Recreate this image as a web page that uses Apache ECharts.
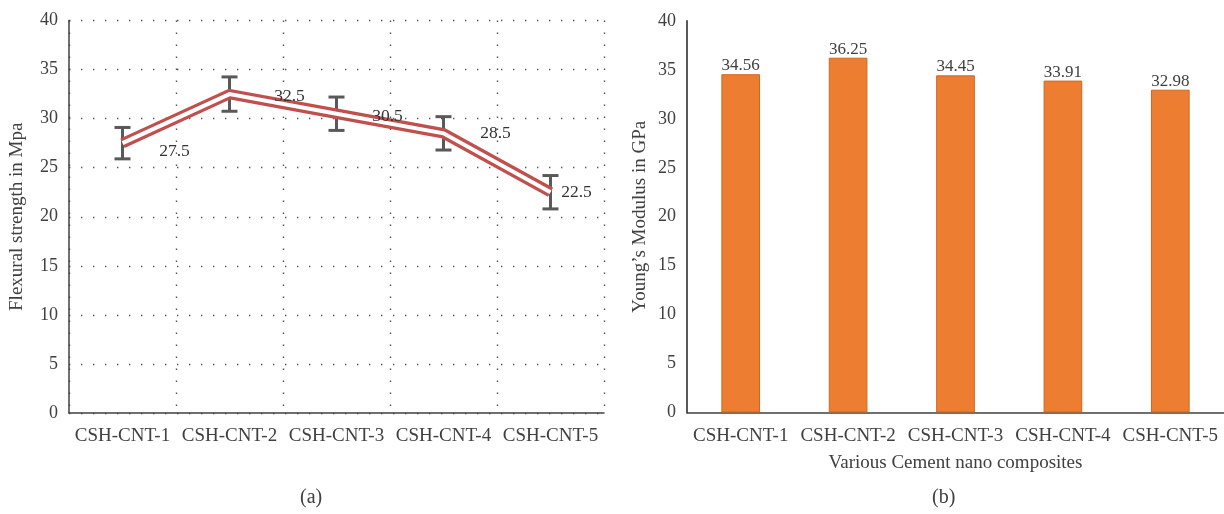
<!DOCTYPE html>
<html>
<head>
<meta charset="utf-8">
<script src="https://cdn.jsdelivr.net/npm/echarts@6/dist/echarts.min.js"></script>
<style>
  html, body { margin: 0; padding: 0; background: #fff; }
  #chart { width: 1224px; height: 514px; }
</style>
</head>
<body>
<div id="chart"></div>
<script>
// Sample names shared by both panels
const categories = ['CSH-CNT-1', 'CSH-CNT-2', 'CSH-CNT-3', 'CSH-CNT-4', 'CSH-CNT-5'];
// (a) Flexural strength (MPa) with its error range
const flexural = [27.5, 32.5, 30.5, 28.5, 22.5];
const flexuralError = [1.6, 1.75, 1.7, 1.7, 1.7];
// (b) Young's modulus (GPa)
const youngs = [34.56, 36.25, 34.45, 33.91, 32.98];
// Value axis ticks
const yMin = 0, yMax = 40, yStep = 5;

// Where each strength label sits relative to its point
const flexLabelOffsets = [[52, 8], [60, 2], [51, 3], [52, 0], [26, 0]];

const FONT = '"Liberation Serif", "DejaVu Serif", serif';
const TEXT = '#404040';
const RED = '#C0504D';

const chart = echarts.init(document.getElementById('chart'), null, { renderer: 'canvas' });

const valueAxisBase = {
  type: 'value', min: yMin, max: yMax, interval: yStep,
  axisTick: { show: false },
  axisLabel: { color: TEXT, fontFamily: FONT, fontSize: 18, margin: 11 },
  nameLocation: 'middle',
  nameTextStyle: { color: TEXT, fontFamily: FONT, fontSize: 19 }
};
const catAxisBase = {
  type: 'category', data: categories,
  axisTick: { show: false },
  axisLabel: { color: TEXT, fontFamily: FONT, fontSize: 19, margin: 14, interval: 0 },
  axisLine: { lineStyle: { color: TEXT, width: 1.5 } }
};
const dotted = { color: '#555', width: 1.4, type: [1.4, 10.6] };

const option = {
  animation: false,
  backgroundColor: '#fff',
  grid: [
    { left: 69, right: 620, top: 20.5, bottom: 101 },
    { left: 687, right: 0, top: 21, bottom: 101.5 }
  ],
  xAxis: [
    Object.assign({}, catAxisBase, {
      gridIndex: 0,
      splitLine: { show: true, interval: 0, lineStyle: dotted }
    }),
    Object.assign({}, catAxisBase, {
      gridIndex: 1,
      name: 'Various Cement nano composites',
      nameLocation: 'middle', nameGap: 41,
      nameTextStyle: { color: TEXT, fontFamily: FONT, fontSize: 19 }
    })
  ],
  yAxis: [
    Object.assign({}, valueAxisBase, {
      gridIndex: 0,
      name: 'Flexural strength in Mpa', nameGap: 42,
      axisLine: { show: true, lineStyle: { color: TEXT, width: 1.5 } },
      splitLine: { show: true, lineStyle: dotted }
    }),
    Object.assign({}, valueAxisBase, {
      gridIndex: 1,
      name: 'Young\u2019s Modulus in GPa', nameGap: 37,
      axisLine: { show: true, lineStyle: { color: '#595959', width: 2 } },
      splitLine: { show: false }
    })
  ],
  series: [
    {
      // error bars for the strength values
      type: 'custom', xAxisIndex: 0, yAxisIndex: 0, z: 2,
      data: flexural.map((v, i) => [i, v - flexuralError[i], v + flexuralError[i]]),
      renderItem: function (params, api) {
        const lo = api.coord([api.value(0), api.value(1)]);
        const hi = api.coord([api.value(0), api.value(2)]);
        const hw = 8;
        const style = { stroke: '#595959', lineWidth: 3 };
        return {
          type: 'group',
          children: [
            { type: 'line', shape: { x1: lo[0], y1: lo[1], x2: hi[0], y2: hi[1] }, style: style },
            { type: 'line', shape: { x1: lo[0] - hw, y1: lo[1], x2: lo[0] + hw, y2: lo[1] }, style: style },
            { type: 'line', shape: { x1: hi[0] - hw, y1: hi[1], x2: hi[0] + hw, y2: hi[1] }, style: style }
          ]
        };
      }
    },
    {
      // outer red stroke of the double line
      type: 'line', xAxisIndex: 0, yAxisIndex: 0, z: 3,
      data: flexural, symbol: 'none', silent: true,
      lineStyle: { color: RED, width: 10.5, join: 'miter', cap: 'butt' }
    },
    {
      // white core of the double line
      type: 'line', xAxisIndex: 0, yAxisIndex: 0, z: 4,
      data: flexural, symbol: 'none', silent: true,
      lineStyle: { color: '#fff', width: 4, join: 'miter', cap: 'butt' }
    },
    {
      // strength value labels
      type: 'scatter', xAxisIndex: 0, yAxisIndex: 0, z: 5,
      symbolSize: 2, itemStyle: { color: 'rgba(0,0,0,0)' },
      data: flexural.map((v, i) => ({
        value: [i, v],
        label: { offset: flexLabelOffsets[i] }
      })),
      label: {
        show: true, position: 'inside',
        formatter: (p) => String(p.value[1]),
        color: '#333', opacity: 1, textBorderWidth: 0,
        fontFamily: FONT, fontSize: 17.5
      }
    },
    {
      type: 'bar', xAxisIndex: 1, yAxisIndex: 1,
      data: youngs, barWidth: '36%',
      itemStyle: { color: '#ED7D31', borderColor: '#D2651E', borderWidth: 1 },
      label: {
        show: true, position: 'top', distance: 0,
        formatter: (p) => p.value.toFixed(2),
        color: TEXT, fontFamily: FONT, fontSize: 17
      }
    }
  ],
  graphic: [
    { type: 'text', left: 300, top: 488, style: { text: '(a)', fill: TEXT, font: '20px ' + FONT } },
    { type: 'text', left: 932, top: 488, style: { text: '(b)', fill: TEXT, font: '20px ' + FONT } }
  ]
};

chart.setOption(option);
</script>
</body>
</html>
